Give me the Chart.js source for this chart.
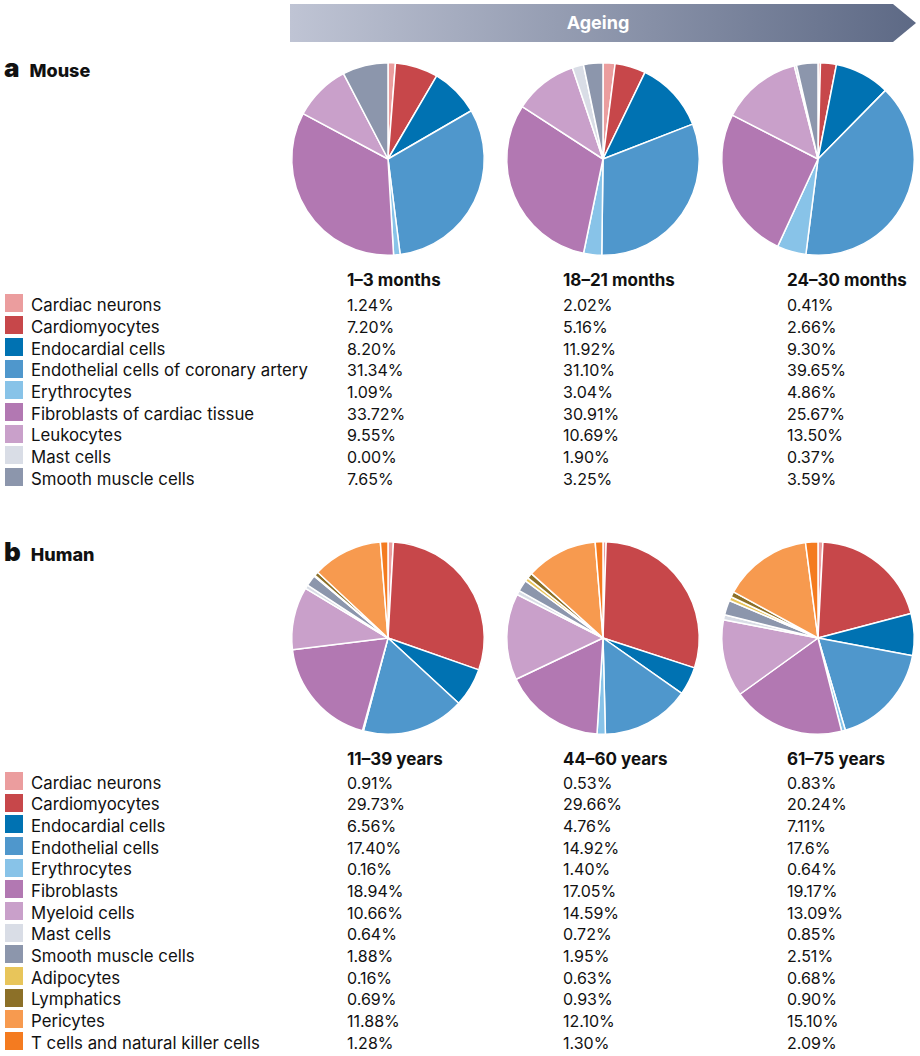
<!DOCTYPE html>
<html>
<head>
<meta charset="utf-8">
<script src="https://cdn.jsdelivr.net/npm/chart.js@4.4.1/dist/chart.umd.min.js"></script>
<style>
  html, body { margin: 0; padding: 0; background: #fff; }
  body { width: 920px; height: 1056px; position: relative; overflow: hidden;
         font-family: 'Inter', 'Noto Sans', sans-serif; color: #111; }
  .abs { position: absolute; }
  .arrow { left: 290px; top: 4px; width: 626px; height: 38px;
           background: linear-gradient(to right, #bfc4d4, #5d6985);
           clip-path: polygon(0 0, 603px 0, 626px 19px, 603px 38px, 0 38px); }
  .arrow span { position: absolute; left: 0; width: 616px; top: 0; line-height: 38px;
                text-align: center; color: #fff; font-weight: 700; font-size: 18px; }
  .panel { font-weight: 800; white-space: nowrap; }
  .panel b { font-size: 26px; font-weight: 900; margin-right: 10px; }
  .panel span { font-size: 18px; }
  .hdr { font-weight: 700; font-size: 17px; white-space: nowrap; }
  .row { left: 0; height: 21.67px; width: 920px; }
  .row .sw { position: absolute; left: 5px; top: 1.8px; width: 18px; height: 18px; }
  .row .lb, .row .v { position: absolute; top: 2.5px; line-height: 21.67px; white-space: nowrap; }
  .row .lb { left: 31px; font-size: 16.8px; }
  .row .v { font-size: 16px; }
  canvas.pie { position: absolute; }
</style>
</head>
<body>
<div class="abs arrow"><span>Ageing</span></div>
<div class="abs panel" style="left:4px; top:52px;"><b>a</b><span>Mouse</span></div>
<div class="abs panel" style="left:4px; top:536px;"><b>b</b><span>Human</span></div>
<div id="root"></div>

<script>
// Panel a: mouse
const mouseTypes = ["Cardiac neurons", "Cardiomyocytes", "Endocardial cells",
  "Endothelial cells of coronary artery", "Erythrocytes", "Fibroblasts of cardiac tissue",
  "Leukocytes", "Mast cells", "Smooth muscle cells"];
const mouseColors = ["#eb9d9e", "#c7474a", "#0072b2", "#4f97cc", "#88c3e8",
  "#b278b2", "#c9a0ca", "#d9dde6", "#8c96ac"];
const mouseAges = ["1–3 months", "18–21 months", "24–30 months"];
const mouse1to3 = ["1.24", "7.20", "8.20", "31.34", "1.09", "33.72", "9.55", "0.00", "7.65"];
const mouse18to21 = ["2.02", "5.16", "11.92", "31.10", "3.04", "30.91", "10.69", "1.90", "3.25"];
const mouse24to30 = ["0.41", "2.66", "9.30", "39.65", "4.86", "25.67", "13.50", "0.37", "3.59"];

// Panel b: human
const humanTypes = ["Cardiac neurons", "Cardiomyocytes", "Endocardial cells", "Endothelial cells",
  "Erythrocytes", "Fibroblasts", "Myeloid cells", "Mast cells", "Smooth muscle cells",
  "Adipocytes", "Lymphatics", "Pericytes", "T cells and natural killer cells"];
const humanColors = ["#eb9d9e", "#c7474a", "#0072b2", "#4f97cc", "#88c3e8",
  "#b278b2", "#c9a0ca", "#d9dde6", "#8c96ac", "#e8c55a", "#8c7028", "#f79a4f", "#f47b20"];
const humanAges = ["11–39 years", "44–60 years", "61–75 years"];
const human11to39 = ["0.91", "29.73", "6.56", "17.40", "0.16", "18.94", "10.66", "0.64", "1.88", "0.16", "0.69", "11.88", "1.28"];
const human44to60 = ["0.53", "29.66", "4.76", "14.92", "1.40", "17.05", "14.59", "0.72", "1.95", "0.63", "0.93", "12.10", "1.30"];
const human61to75 = ["0.83", "20.24", "7.11", "17.6", "0.64", "19.17", "13.09", "0.85", "2.51", "0.68", "0.90", "15.10", "2.09"];

const colX = [347, 563, 787];
const pieX = [388, 603, 818];
const root = document.getElementById("root");

function drawPanel(types, colors, ages, series, pieY, hdrY, rowY) {
  series.forEach((vals, i) => {
    const c = document.createElement("canvas");
    c.className = "pie";
    c.width = 200; c.height = 200;
    c.style.left = (pieX[i] - 100) + "px";
    c.style.top = (pieY - 100) + "px";
    root.appendChild(c);
    new Chart(c, {
      type: "pie",
      data: {
        labels: types,
        datasets: [{
          data: vals.map(Number),
          backgroundColor: colors,
          borderColor: "#fff",
          borderWidth: 1.5,
        }],
      },
      options: {
        responsive: false,
        animation: false,
        layout: { padding: 3 },
        plugins: { legend: { display: false }, tooltip: { enabled: false } },
      },
    });

    const h = document.createElement("div");
    h.className = "abs hdr";
    h.style.left = colX[i] + "px";
    h.style.top = (hdrY - 9) + "px";
    h.textContent = ages[i];
    root.appendChild(h);
  });

  types.forEach((t, r) => {
    const row = document.createElement("div");
    row.className = "abs row";
    row.style.top = (rowY + r * 21.67 - 10.8) + "px";
    let html = `<div class="sw" style="background:${colors[r]}"></div><div class="lb">${t}</div>`;
    series.forEach((vals, i) => {
      html += `<div class="v" style="left:${colX[i]}px">${vals[r]}%</div>`;
    });
    row.innerHTML = html;
    root.appendChild(row);
  });
}

drawPanel(mouseTypes, mouseColors, mouseAges, [mouse1to3, mouse18to21, mouse24to30], 158.5, 279, 303.5);
drawPanel(humanTypes, humanColors, humanAges, [human11to39, human44to60, human61to75], 638, 758, 781);
</script>
</body>
</html>
